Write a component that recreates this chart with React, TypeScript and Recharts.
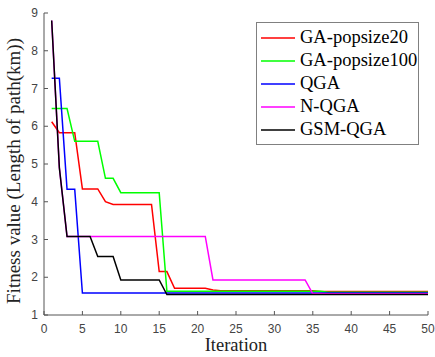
import { LineChart, Line, XAxis, YAxis, Legend, Label } from "recharts"

const iterations = Array.from({ length: 50 }, (_, i) => i + 1)

const rep = (v: number, n: number) => Array(n).fill(v) as number[]

// values
const gaPop20 = [6.12, 5.83, 5.83, 5.83, 4.34, 4.34, 4.34, 4.0, 3.93, ...rep(3.93, 5), 2.15, 2.15, ...rep(1.71, 5), 1.66, ...rep(1.64, 13), ...rep(1.62, 15)]
const gaPop100 = [...rep(6.47, 3), ...rep(5.6, 4), 4.62, 4.62, ...rep(4.24, 6), ...rep(1.63, 21), ...rep(1.6, 14)]
const qga = [7.27, 7.27, 4.33, 4.33, ...rep(1.58, 46)]
const nQga = [8.8, 4.9, ...rep(3.08, 19), ...rep(1.93, 13), ...rep(1.56, 16)]
const gsmQga = [8.8, 4.9, ...rep(3.08, 4), ...rep(2.55, 3), ...rep(1.93, 6), ...rep(1.54, 35)]

const xTicks = [0, 5, 10, 15, 20, 25, 30, 35, 40, 45, 50]
const yTicks = [1, 2, 3, 4, 5, 6, 7, 8, 9]

const series = [
  { key: "ga20", name: "GA-popsize20", color: "#ff0000", values: gaPop20 },
  { key: "ga100", name: "GA-popsize100", color: "#00ff00", values: gaPop100 },
  { key: "qga", name: "QGA", color: "#0000ff", values: qga },
  { key: "nqga", name: "N-QGA", color: "#ff00ff", values: nQga },
  { key: "gsm", name: "GSM-QGA", color: "#000000", values: gsmQga },
]

const data = iterations.map((it, i) => {
  const row: Record<string, number> = { it }
  series.forEach((s) => (row[s.key] = s.values[i]))
  return row
})

const serif = "'Liberation Serif', 'Times New Roman', serif"
const sans = "'Liberation Sans', Arial, sans-serif"
const axisColor = "#555"

function XTick({ x, y, payload }: any) {
  const axisY = y - 10
  return (
    <g>
      <line x1={x} x2={x} y1={axisY} y2={axisY - 4} stroke={axisColor} />
      <text x={x} y={axisY + 14} dy="0.35em" textAnchor="middle" fontFamily={sans} fontSize={12} fill="#444">
        {payload.value}
      </text>
    </g>
  )
}

function YTick({ x, y, payload }: any) {
  const axisX = x + 6
  return (
    <g>
      <line x1={axisX} x2={axisX + 4} y1={y} y2={y} stroke={axisColor} />
      <text x={x} y={y} dy="0.35em" textAnchor="end" fontFamily={sans} fontSize={12} fill="#444">
        {payload.value}
      </text>
    </g>
  )
}

function LegendBox() {
  return (
    <div
      style={{
        border: "1px solid #808080",
        background: "#fff",
        padding: "3px 0 3px 3px",
        width: 163,
        boxSizing: "border-box",
      }}
    >
      {series.map((s) => (
        <div key={s.key} style={{ display: "flex", alignItems: "center", height: 23 }}>
          <svg width={40} height={4}>
            <line x1={1} x2={35} y1={2} y2={2} stroke={s.color} strokeWidth={1.5} />
          </svg>
          <span style={{ fontFamily: serif, fontSize: 18.5, color: "#000", lineHeight: "23px" }}>{s.name}</span>
        </div>
      ))}
    </div>
  )
}

export default function App() {
  return (
    <div style={{ position: "absolute", left: 0, top: 0, width: 435, height: 357, background: "#fff" }}>
      <LineChart width={435} height={357} data={data} margin={{ top: 13, right: 7, bottom: 0, left: 0 }}>
        <XAxis
          dataKey="it"
          type="number"
          domain={[0, 50]}
          ticks={xTicks}
          interval={0}
          height={42}
          tickSize={0}
          tickMargin={10}
          tick={<XTick />}
          stroke={axisColor}
        >
          <Label
            content={() => (
              <text x={236} y={345} dy="0.35em" textAnchor="middle" fontFamily={serif} fontSize={18.5} fill="#222">
                Iteration
              </text>
            )}
          />
        </XAxis>
        <YAxis
          type="number"
          domain={[1, 9]}
          ticks={yTicks}
          interval={0}
          width={44}
          tickSize={0}
          tickMargin={6}
          tick={<YTick />}
          stroke={axisColor}
        >
          <Label
            content={() => (
              <text
                transform="translate(13,171) rotate(-90)"
                dy="0.35em"
                textAnchor="middle"
                fontFamily={serif}
                fontSize={19}
                fill="#222"
              >
                Fitness value (Length of path(km))
              </text>
            )}
          />
        </YAxis>
        <Legend
          layout="vertical"
          align="center"
          verticalAlign="middle"
          content={() => <LegendBox />}
          wrapperStyle={{ position: "absolute", left: 256, top: 22, width: 165, height: 116 }}
        />
        {series.map((s) => (
          <Line
            key={s.key}
            dataKey={s.key}
            name={s.name}
            stroke={s.color}
            strokeWidth={1.5}
            dot={false}
            type="linear"
            isAnimationActive={false}
          />
        ))}
      </LineChart>
    </div>
  )
}
